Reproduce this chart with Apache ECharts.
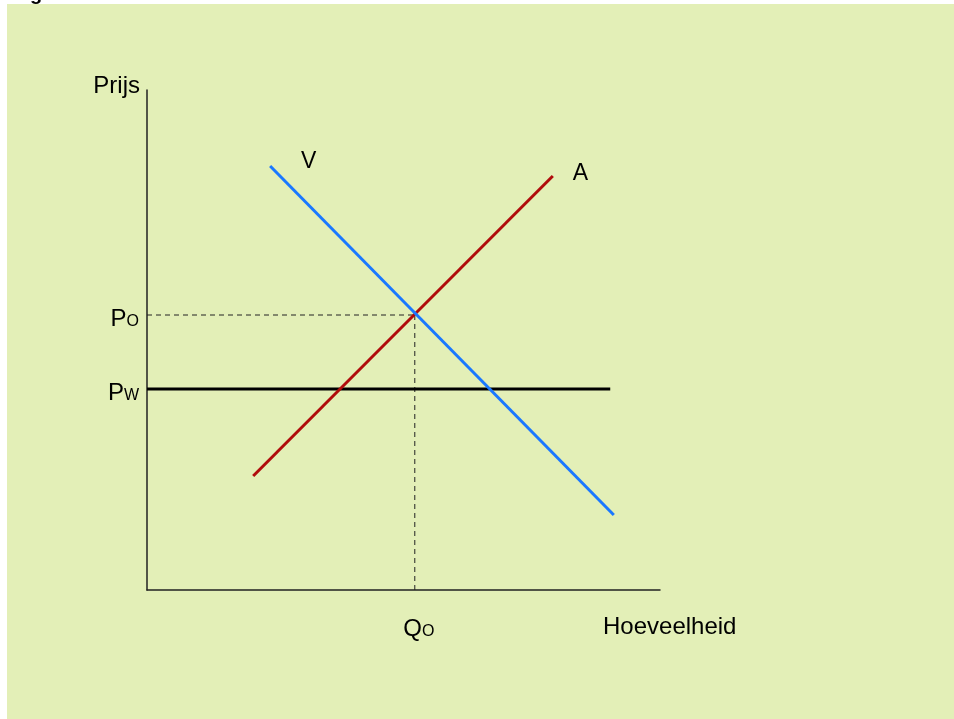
<!DOCTYPE html>
<html>
<head>
<meta charset="utf-8">
<script src="https://cdn.jsdelivr.net/npm/echarts@6/dist/echarts.min.js"></script>
<style>
html, body { margin: 0; padding: 0; background: #ffffff; }
#panel { position: absolute; left: 7px; top: 4px; width: 947px; height: 715px; background: #e3efb7; }
#chart { position: absolute; left: 0; top: 0; width: 954px; height: 719px; }
</style>
</head>
<body>
<div id="panel"></div>
<div id="chart"></div>
<script>
// lijnen in de grafiek (x = hoeveelheid, y = prijs, schaal 0-100)
var demandLine = [[24.0, 84.8], [91.0, 15.0]];   // V
var supplyLine = [[20.7, 22.8], [79.1, 82.8]];   // A
var worldPrice = 40.2;       // Pw
var worldPriceEnd = 90.3;
var eqQuantity = 52.2;       // Qo
var eqPrice = 55.0;          // Po
var curveNames = ['V', 'A'];
var axisNames = ['Hoeveelheid', 'Prijs'];

var font = 'Liberation Sans, Arial, sans-serif';

var myChart = echarts.init(document.getElementById('chart'));

var option = {
    animation: false,
    grid: { left: 147, top: 90, width: 513, height: 500, containLabel: false },
    graphic: [{
        type: 'text',
        left: 30,
        top: -16,
        style: { text: 'g', font: 'bold 20px ' + font, fill: '#000' }
    }],
    xAxis: {
        type: 'value', min: 0, max: 100,
        axisLine: { show: true, lineStyle: { color: '#222', width: 1.5 } },
        axisTick: { show: false },
        splitLine: { show: false },
        axisLabel: {
            show: true, customValues: [eqQuantity], margin: 27, padding: [0, 0, 0, 8],
            formatter: function () { return '{p|Q}{s|O}'; },
            rich: {
                p: { fontFamily: font, fontSize: 24, color: '#000', verticalAlign: 'bottom' },
                s: { fontFamily: font, fontSize: 16, color: '#000', verticalAlign: 'bottom', padding: [0, 0, 1, 0] }
            }
        }
    },
    yAxis: {
        type: 'value', min: 0, max: 100,
        name: axisNames[1], nameLocation: 'end', nameGap: -8,
        nameTextStyle: { fontFamily: font, fontSize: 24, color: '#000', align: 'right', padding: [0, 7, 0, 0] },
        axisLine: { show: true, lineStyle: { color: '#222', width: 1.5 } },
        axisTick: { show: false },
        splitLine: { show: false },
        axisLabel: {
            show: true, customValues: [worldPrice, eqPrice], margin: 8, padding: [8, 0, 0, 0],
            formatter: function (v) { return v === eqPrice ? '{p|P}{s|O}' : '{p|P}{s|W}'; },
            rich: {
                p: { fontFamily: font, fontSize: 24, color: '#000', verticalAlign: 'bottom' },
                s: { fontFamily: font, fontSize: 16, color: '#000', verticalAlign: 'bottom', padding: [0, 0, 1, 0] }
            }
        }
    },
    series: [
        {
            name: 'Po', type: 'line', symbol: 'none', silent: true,
            data: [[0, eqPrice], [eqQuantity, eqPrice]],
            lineStyle: { color: '#222', width: 1, type: [5, 4] }
        },
        {
            name: 'Qo', type: 'line', symbol: 'none', silent: true,
            data: [[eqQuantity, eqPrice], [eqQuantity, 0]],
            lineStyle: { color: '#222', width: 1, type: [5, 4] }
        },
        {
            name: 'Pw', type: 'line', symbol: 'none', silent: true,
            data: [[0, worldPrice], [worldPriceEnd, worldPrice]],
            lineStyle: { color: '#000', width: 3 }
        },
        {
            name: 'A', type: 'line', symbol: 'none', silent: true,
            data: supplyLine,
            lineStyle: { color: '#b00c0c', width: 3 }
        },
        {
            name: 'V', type: 'line', symbol: 'none', silent: true,
            data: demandLine,
            lineStyle: { color: '#1a78ff', width: 3 }
        },
        {
            name: 'labels', type: 'scatter', symbolSize: 0, silent: true,
            itemStyle: { opacity: 1 },
            data: [
                { name: curveNames[0], value: demandLine[0], label: { position: 'right', offset: [26, -4] } },
                { name: curveNames[1], value: supplyLine[1], label: { position: 'right', offset: [15, -2] } },
                { name: axisNames[0], value: [100, 0], label: { position: [-57, 25], align: 'left', verticalAlign: 'top', fontSize: 24 } }
            ],
            label: {
                show: true, formatter: '{b}',
                fontFamily: font, fontSize: 23, color: '#000', opacity: 1
            }
        }
    ]
};

myChart.setOption(option);
</script>
</body>
</html>
